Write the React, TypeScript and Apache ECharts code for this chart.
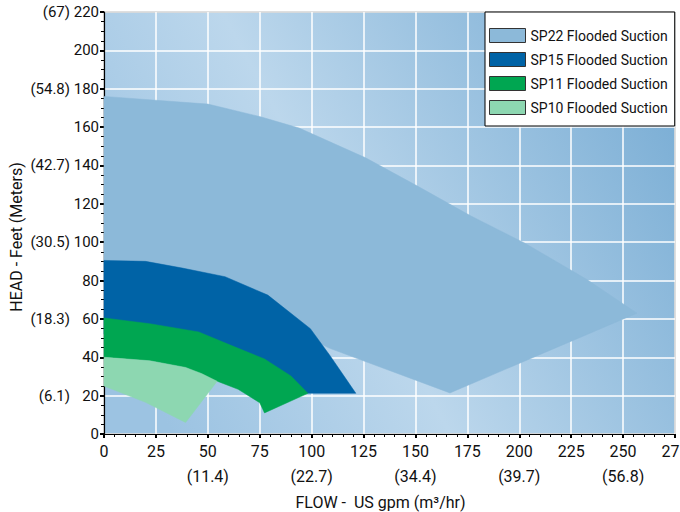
import React, { useEffect, useRef } from 'react';
import * as echarts from 'echarts';

const FONT = 'Roboto, "Noto Sans", sans-serif';

const seriesNames = ['SP22 Flooded Suction', 'SP15 Flooded Suction', 'SP11 Flooded Suction', 'SP10 Flooded Suction'];
const seriesColors = ['#8cb9d9', '#0063a6', '#00a651', '#8dd7b1'];

// Operating envelopes: [flow gpm, head ft]
const sp22Points = [
  [0, 176], [25, 174], [50, 172], [75, 165.5], [94, 159.5], [126, 144], [151.4, 129],
  [177, 113.5], [202.5, 99.6], [232.8, 80.4], [256.7, 63], [166.6, 21.4], [108.4, 44.8],
  [80, 60], [40, 75], [0, 80],
];
const sp15Points = [
  [0, 90.5], [20, 90], [37.7, 86.5], [58.3, 82], [78.9, 72.4], [99.4, 54.9], [108.9, 40.8],
  [121.3, 21.2], [98, 21.2], [85, 30], [60, 40], [30, 48], [0, 52],
];
const sp11Points = [
  [0, 60.5], [22, 57.5], [45.6, 53.2], [61.4, 46.1], [77.3, 39.1], [90, 30.3], [98.2, 21.2],
  [77.3, 11], [75, 16.3], [64.6, 23.3], [52, 28.6], [39.3, 34.7], [22, 38.2], [0, 40],
];
const sp10Points = [
  [0, 40], [22, 38.2], [39.3, 34.7], [47, 31.5], [54.5, 27.5], [39.3, 6], [20, 16.5], [0, 25],
];
const seriesPoints = [sp22Points, sp15Points, sp11Points, sp10Points];

const xMetricTicks = [50, 100, 150, 200, 250];
const xMetricLabels = ['(11.4)', '(22.7)', '(34.4)', '(39.7)', '(56.8)'];
const yMetricTicks = [20, 60, 100, 140, 180, 220];
const yMetricLabels = ['(6.1)', '(18.3)', '(30.5)', '(42.7)', '(54.8)', '(67)'];

export default function App() {
  const ref = useRef<HTMLDivElement>(null);
  useEffect(() => {
    document.body.style.margin = '0';
    if (!ref.current) return;
    const chart = echarts.init(ref.current, null, { renderer: 'svg' });
    const series = seriesNames.map((name, i) => {
      const pts = seriesPoints[i];
      return {
        name,
        type: 'custom',
        data: pts,
        itemStyle: { color: seriesColors[i] },
        z: 2 + i,
        renderItem: (params: any, api: any) => {
          if (params.dataIndex !== 0) return null;
          const coords = pts.map((p) => api.coord(p));
          return {
            type: 'polygon',
            shape: { points: coords },
            style: { fill: seriesColors[i], stroke: seriesColors[i], lineWidth: 0.5 },
          };
        },
      };
    });
    chart.setOption({
      animation: false,
      backgroundColor: '#fff',
      textStyle: { fontFamily: FONT },
      grid: {
        left: 104,
        top: 12,
        width: 571,
        height: 422,
        containLabel: false,
        outerBoundsMode: 'none',
        show: true,
        borderColor: '#000',
        borderWidth: 1,
        backgroundColor: new echarts.graphic.LinearGradient(0, 0.7, 1, 0.3, [
          { offset: 0, color: '#9cc3e2' },
          { offset: 0.42, color: '#bcd7ec' },
          { offset: 1, color: '#7eb0d6' },
        ]),
      },
      legend: {
        orient: 'vertical',
        left: 485,
        top: 12,
        padding: [15, 7, 10, 4],
        itemGap: 7,
        itemWidth: 36,
        itemHeight: 14,
        icon: 'rect',
        backgroundColor: '#fff',
        borderColor: '#000',
        borderWidth: 1,
        itemStyle: { borderColor: '#333', borderWidth: 1 },
        textStyle: { fontFamily: FONT, fontSize: 14, color: '#111', lineHeight: 17 },
        data: seriesNames,
      },
      xAxis: {
        type: 'value',
        min: 0,
        max: 275,
        interval: 25,
        name: 'FLOW -  US gpm (m³/hr)',
        nameLocation: 'middle',
        nameGap: 60,
        nameMoveOverlap: false,
        nameTextStyle: { fontFamily: FONT, fontSize: 16, color: '#111', padding: [0, 18, 0, 0] },
        axisLine: { show: true, lineStyle: { color: '#000', width: 1.2 } },
        axisTick: { show: true, length: 4, lineStyle: { color: '#000', width: 2 } },
        minorTick: { show: true, splitNumber: 5, length: 3, lineStyle: { color: '#000', width: 1 } },
        splitLine: { show: true, lineStyle: { color: '#fff', width: 1.5 } },
        axisLabel: {
          fontFamily: FONT,
          fontSize: 16,
          color: '#111',
          margin: 5,
          lineHeight: 25,
          formatter: (v: number) => {
            const k = xMetricTicks.indexOf(v);
            return k >= 0 ? `${v}\n${xMetricLabels[k]}` : `${v}`;
          },
        },
      },
      yAxis: {
        type: 'value',
        min: 0,
        max: 220,
        interval: 20,
        name: 'HEAD - Feet (Meters)',
        nameLocation: 'middle',
        nameGap: 80,
        nameMoveOverlap: false,
        nameTextStyle: { fontFamily: FONT, fontSize: 16, color: '#111', padding: [0, 28, 0, 0] },
        axisLine: { show: true, lineStyle: { color: '#000', width: 1.2 } },
        axisTick: { show: true, length: 4, lineStyle: { color: '#000', width: 2 } },
        minorTick: { show: true, splitNumber: 4, length: 3, lineStyle: { color: '#000', width: 1 } },
        splitLine: { show: true, lineStyle: { color: '#fff', width: 1.5 } },
        axisLabel: {
          fontFamily: FONT,
          fontSize: 15,
          color: '#111',
          margin: 5,
          formatter: (v: number) => {
            const k = yMetricTicks.indexOf(v);
            return k >= 0 ? `{m|${yMetricLabels[k]}}{v|${v}}` : `{v|${v}}`;
          },
          rich: {
            m: { fontFamily: FONT, fontSize: 15, color: '#111' },
            v: { fontFamily: FONT, fontSize: 15, color: '#111', width: 29, align: 'right' },
          },
        },
      },
      series,
    });
    return () => chart.dispose();
  }, []);
  return <div ref={ref} style={{ width: 680, height: 512 }} />;
}
